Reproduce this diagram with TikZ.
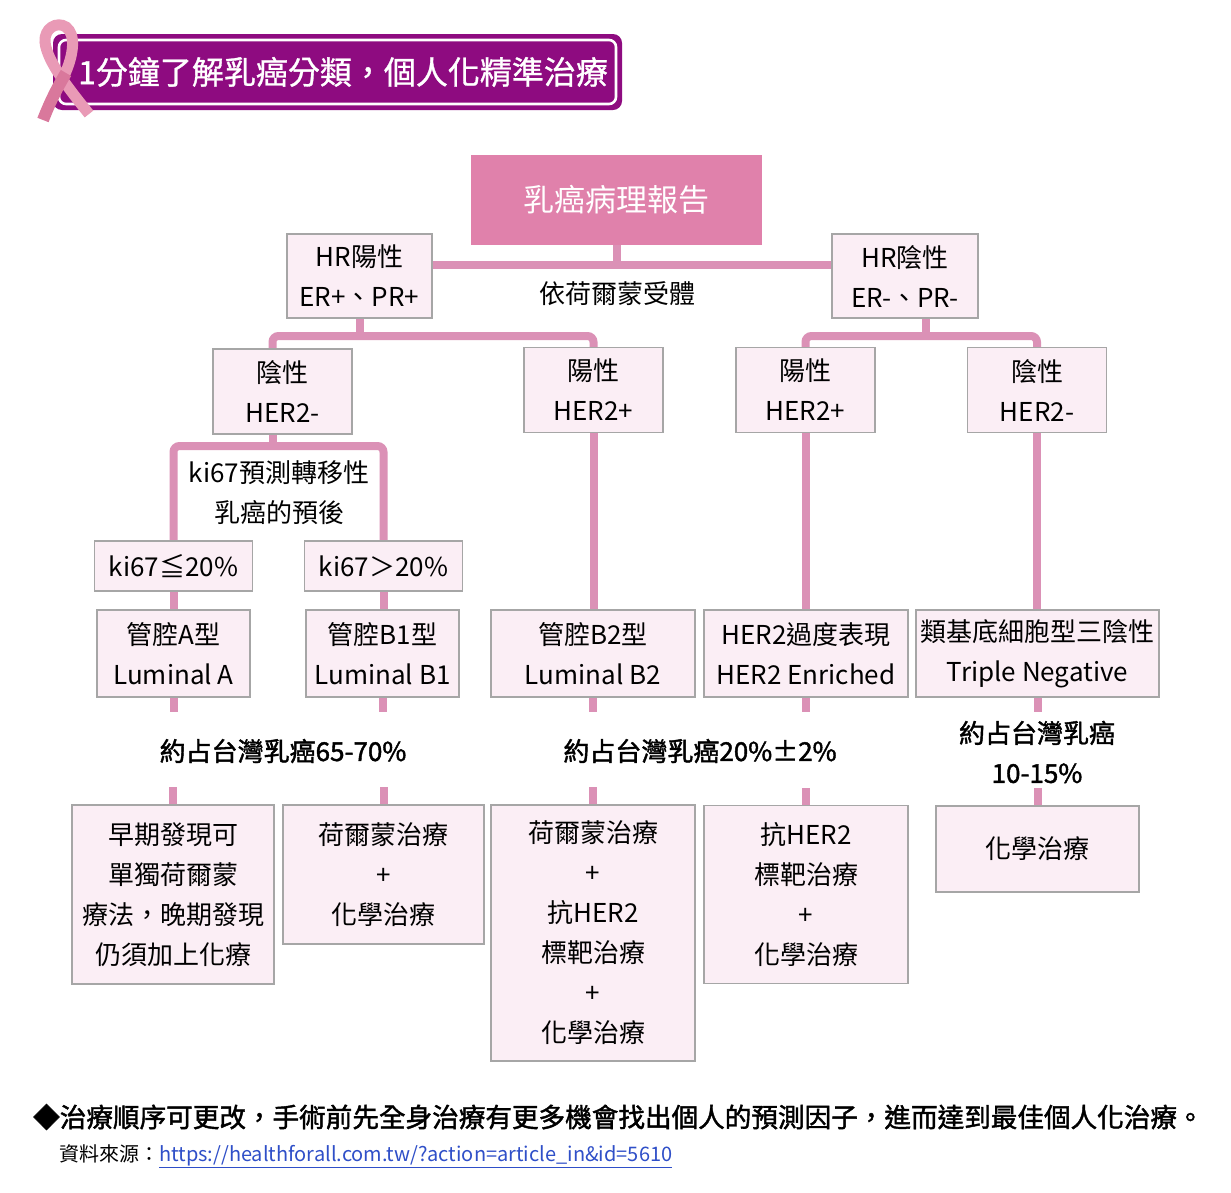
\documentclass[tikz,border=0pt]{standalone}
\usepackage{fontspec}
\setmainfont{Noto Sans CJK TC}
\newfontfamily\boldish[FakeBold=1.6]{Noto Sans CJK TC}
\newfontfamily\semibold[FakeBold=1.0]{Noto Sans CJK TC}
\usetikzlibrary{calc}
\definecolor{linecol}{HTML}{DB91B6}
\definecolor{topfill}{HTML}{E081AB}
\definecolor{boxfill}{HTML}{FBEEF5}
\definecolor{boxdraw}{HTML}{A6A6A6}
\definecolor{banner}{HTML}{8E0B80}
\definecolor{ribA}{HTML}{E99AB6}
\definecolor{ribB}{HTML}{D9789C}
\definecolor{link}{HTML}{2F4FC8}
\pgfdeclarelayer{bg}
\pgfdeclarelayer{lines}
\pgfsetlayers{bg,lines,main}
\tikzset{
  pbox/.style={draw=boxdraw, line width=1.2pt, fill=boxfill, align=center, inner sep=0pt,
    font=\fontsize{26}{40}\selectfont},
  wh/.style 2 args={minimum width=#1pt, minimum height=#2pt},
  topbox/.style={fill=topfill, text=white, inner sep=0pt, font=\fontsize{31}{34}\selectfont},
  lbl/.style={align=center, inner sep=0pt, font=\fontsize{26}{40}\selectfont},
  blbl/.style={align=center, inner sep=0pt, font=\boldish\fontsize{26}{40}\selectfont},
  conn/.style={draw=linecol, line width=8pt},
  rconn/.style={conn, rounded corners=6pt},
}
\begin{document}
\begin{tikzpicture}[x=1pt, y=-1pt]
\begin{pgfonlayer}{bg}
\fill[white] (0,0) rectangle (1231,1192);
\end{pgfonlayer}
\useasboundingbox (0,0) rectangle (1231,1192);

% banner
\fill[banner, rounded corners=9pt] (53,34) rectangle (622,110);
\draw[white, line width=2.6pt, rounded corners=7pt] (59,40) rectangle (616,104);
\node[text=white, inner sep=0pt, font=\semibold\fontsize{32}{34}\selectfont] (title) at (343,72) {1分鐘了解乳癌分類，個人化精準治療};
% ribbon
\draw[ribA, line width=11pt] (64,76) .. controls (74,55) and (76,34) .. (66,27) .. controls (57,21) and (44,28) .. (45,42) .. controls (47,62) and (70,90) .. (89,114);
\draw[ribB, line width=12pt] (43,120) .. controls (50,102) and (57,88) .. (66,73);

% top nodes
\node[topbox, wh={291}{90}] (top) at (616.5,199.5) {乳癌病理報告};
\node[pbox, wh={145}{84}] (hrp) at (359.5,276) {HR陽性\\ER+、PR+};
\node[pbox, wh={146}{84}] (hrn) at (905,276) {HR陰性\\ER-、PR-};
\node[lbl] (l0) at (617,294) {依荷爾蒙受體};

\node[pbox, wh={139}{85}] (her2a) at (282.5,391.5) {陰性\\HER2-};
\node[pbox, wh={139}{85}] (her2b) at (593.5,390) {陽性\\HER2+};
\node[pbox, wh={139}{85}] (her2c) at (805.5,390) {陽性\\HER2+};
\node[pbox, wh={139}{85}] (her2d) at (1037,390) {陰性\\HER2-};

\node[lbl] (kt) at (279,493) {ki67預測轉移性\\乳癌的預後};
\node[pbox, wh={158}{50}] (ki67a) at (173.5,566) {ki67≦20\%};
\node[pbox, wh={158}{50}] (ki67b) at (383.5,566) {ki67＞20\%};

\node[pbox, wh={153}{87}] (lumA) at (173.5,653.5) {管腔A型\\Luminal A};
\node[pbox, wh={153}{87}] (lumB1) at (382.5,653.5) {管腔B1型\\Luminal B1};
\node[pbox, wh={204}{87}] (lumB2) at (593,653.5) {管腔B2型\\Luminal B2};
\node[pbox, wh={204}{87}] (her2e) at (806,653.5) {HER2過度表現\\HER2 Enriched};
\node[pbox, wh={243}{87}] (tn) at (1037.5,653.5) {類基底細胞型三陰性\\Triple Negative};

\node[blbl] (l1) at (283,751) {約占台灣乳癌65-70\%};
\node[blbl] (l2) at (700,751) {約占台灣乳癌20\%±2\%};
\node[blbl] (l3) at (1037,752) {約占台灣乳癌\\10-15\%};

\node[pbox, wh={202}{179}] (t1) at (173,894.5) {早期發現可\\單獨荷爾蒙\\療法，晚期發現\\仍須加上化療};
\node[pbox, wh={201}{139}] (t2) at (383.5,874.5) {荷爾蒙治療\\+\\化學治療};
\node[pbox, wh={204}{256}] (t3) at (593,933) {荷爾蒙治療\\+\\抗HER2\\標靶治療\\+\\化學治療};
\node[pbox, wh={204}{178}] (t4) at (806,894.5) {抗HER2\\標靶治療\\+\\化學治療};
\node[pbox, wh={203}{86}] (t5) at (1037.5,849) {化學治療};

% footer
\node[anchor=west, inner sep=0pt, font=\boldish\fontsize{26.6}{30}\selectfont] (foot) at (33,1117) {◆治療順序可更改，手術前先全身治療有更多機會找出個人的預測因子，進而達到最佳個人化治療。};
\node[anchor=west, inner sep=0pt, font=\fontsize{20}{22}\selectfont] (src) at (59,1156) {資料來源：\textcolor{link}{\underline{https://healthforall.com.tw/?action=article\_in\&id=5610}}};

% connectors
\coordinate (bar1) at (0,265);
\coordinate (bar2) at (0,336);
\coordinate (bar3) at (0,446);
\coordinate (h2aIn) at ($(her2a.north)+(-10,0)$);
\coordinate (h2aOut) at ($(her2a.south)+(-9.5,0)$);
\coordinate (hrnOut) at ($(hrn.south)+(21,0)$);
\begin{pgfonlayer}{lines}
\draw[conn] (top.south) -- (top.south |- bar1);
\draw[conn] (hrp.east |- bar1) -- (hrn.west |- bar1);
\draw[conn] (hrp.south) -- (hrp.south |- bar2);
\draw[rconn] (h2aIn) |- (bar2 -| her2b.north) -- (her2b.north);
\draw[conn] (hrnOut) -- (hrnOut |- bar2);
\draw[rconn] (her2c.north) |- (bar2 -| her2d.north) -- (her2d.north);
\draw[conn] (h2aOut) -- (h2aOut |- bar3);
\draw[rconn] (ki67a.north) |- (bar3 -| ki67b.north) -- (ki67b.north);
\draw[conn] (ki67a.south) -- (ki67a.south |- lumA.north);
\draw[conn] (ki67b.south) -- (ki67b.south |- lumB1.north);
\draw[conn] (her2b.south) -- (her2b.south |- lumB2.north);
\draw[conn] (her2c.south) -- (her2c.south |- her2e.north);
\draw[conn] (her2d.south) -- (her2d.south |- tn.north);
\foreach \a/\b in {lumA/t1, lumB1/t2, lumB2/t3, her2e/t4, tn/t5} {
  \coordinate (\a s) at ($(\a.south)+(0,14)$);
  \coordinate (\b n) at ($(\b.north)+(0,-17)$);
  \draw[conn] (\a.south) -- (\a s);
  \draw[conn] (\b.north) -- (\b n);
}
\end{pgfonlayer}
\end{tikzpicture}
\end{document}
